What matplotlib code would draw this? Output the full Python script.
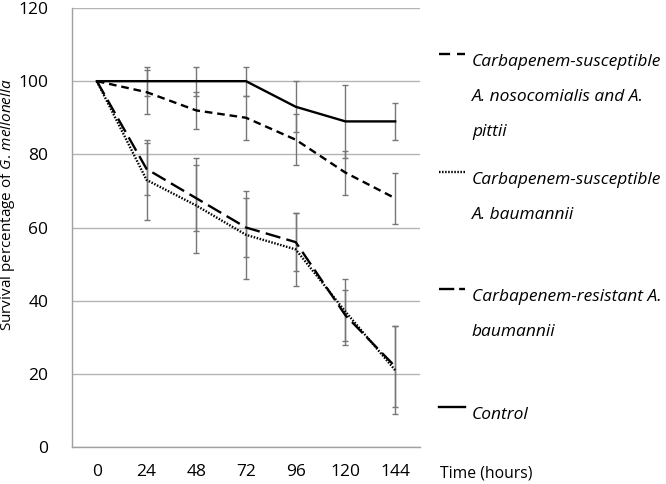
import matplotlib
matplotlib.use("Agg")
import matplotlib.pyplot as plt
from matplotlib.lines import Line2D
import numpy as np

# Dados (percentual de sobrevivência de G. mellonella)
tempos = [0, 24, 48, 72, 96, 120, 144]
nosocomialis = [100, 97, 92, 90, 84, 75, 68]
nosocomialis_err = [0, 6, 5, 6, 7, 6, 7]
susc_baumannii = [100, 73, 66, 58, 54, 37, 21]
susc_baumannii_err = [0, 11, 13, 12, 10, 9, 12]
resist_baumannii = [100, 76, 68, 60, 56, 36, 22]
resist_baumannii_err = [0, 7, 9, 8, 8, 7, 11]
controle = [100, 100, 100, 100, 93, 89, 89]
controle_err = [0, 4, 4, 4, 7, 10, 5]

plt.rcParams['font.family'] = ['Open Sans', 'DejaVu Sans']
plt.rcParams['lines.scale_dashes'] = False
plt.rcParams['mathtext.fontset'] = 'custom'
plt.rcParams['mathtext.rm'] = 'Open Sans'
plt.rcParams['mathtext.it'] = 'Open Sans:italic'

W, H = 666, 484
fig = plt.figure(figsize=(W / 100, H / 100), dpi=100)
ax = fig.add_axes([72 / W, 1 - 447 / H, (420 - 72) / W, (447 - 8) / H])

x = np.arange(len(tempos))
cinza = '#767676'

series = [
    (nosocomialis, nosocomialis_err, dict(dashes=(5.5, 3.5))),
    (susc_baumannii, susc_baumannii_err, dict(dashes=(1.1, 1.1))),
    (resist_baumannii, resist_baumannii_err, dict(dashes=(11, 4.5))),
    (controle, controle_err, dict(linestyle='-')),
]

# Barras de erro (sem o ponto inicial)
for vals, errs, _ in series:
    ax.errorbar(x[1:], vals[1:], yerr=errs[1:], fmt='none', ecolor=cinza,
                elinewidth=1, capsize=2.2, capthick=1, zorder=2)

# Linhas
for vals, errs, estilo in series:
    ax.plot(x, vals, color='black', linewidth=1.7, zorder=3, **estilo)

ax.set_xlim(-0.5, len(tempos) - 0.5)
ax.set_ylim(0, 120)
ax.set_yticks(range(0, 121, 20))
ax.set_xticks(x)
ax.set_xticklabels([str(t) for t in tempos])
ax.tick_params(axis='both', length=0, labelsize=12.5, colors='black')
ax.tick_params(axis='y', pad=17)
ax.tick_params(axis='x', pad=12)
ax.yaxis.grid(True, color='#b4b4b4', linewidth=1)
ax.set_axisbelow(True)
for s in ['top', 'right']:
    ax.spines[s].set_visible(False)
for s in ['left', 'bottom']:
    ax.spines[s].set_color('#a0a0a0')
    ax.spines[s].set_linewidth(1)

# Rótulo do eixo y
fig.text(8 / W, 1 - 205 / H, r"Survival percentage of $\it{G.\,mellonella}$",
         rotation=90, ha='center', va='center', fontsize=11)
fig.text(440 / W, 1 - 474 / H, "Time (hours)", ha='left', va='center', fontsize=11.3)

# Legenda manual
legenda = [
    (54, dict(dashes=(8, 5)), ["Carbapenem-susceptible", "A. nosocomialis and A.", "pittii"]),
    (172, dict(dashes=(1.1, 1.1)), ["Carbapenem-susceptible", "A. baumannii"]),
    (289, dict(dashes=(11, 3.5)), ["Carbapenem-resistant A.", "baumannii"]),
    (407, dict(linestyle='-'), ["Control"]),
]
for y_h, estilo, linhas in legenda:
    fig.add_artist(Line2D([439 / W, 465 / W], [1 - y_h / H, 1 - y_h / H],
                          transform=fig.transFigure, color='black',
                          linewidth=1.7, **estilo))
    for i, txt in enumerate(linhas):
        fig.text(472 / W, 1 - (y_h + 8 + 35 * i) / H, txt, style='italic',
                 ha='left', va='center', fontsize=12.5)

fig.savefig('out.png', dpi=100)
